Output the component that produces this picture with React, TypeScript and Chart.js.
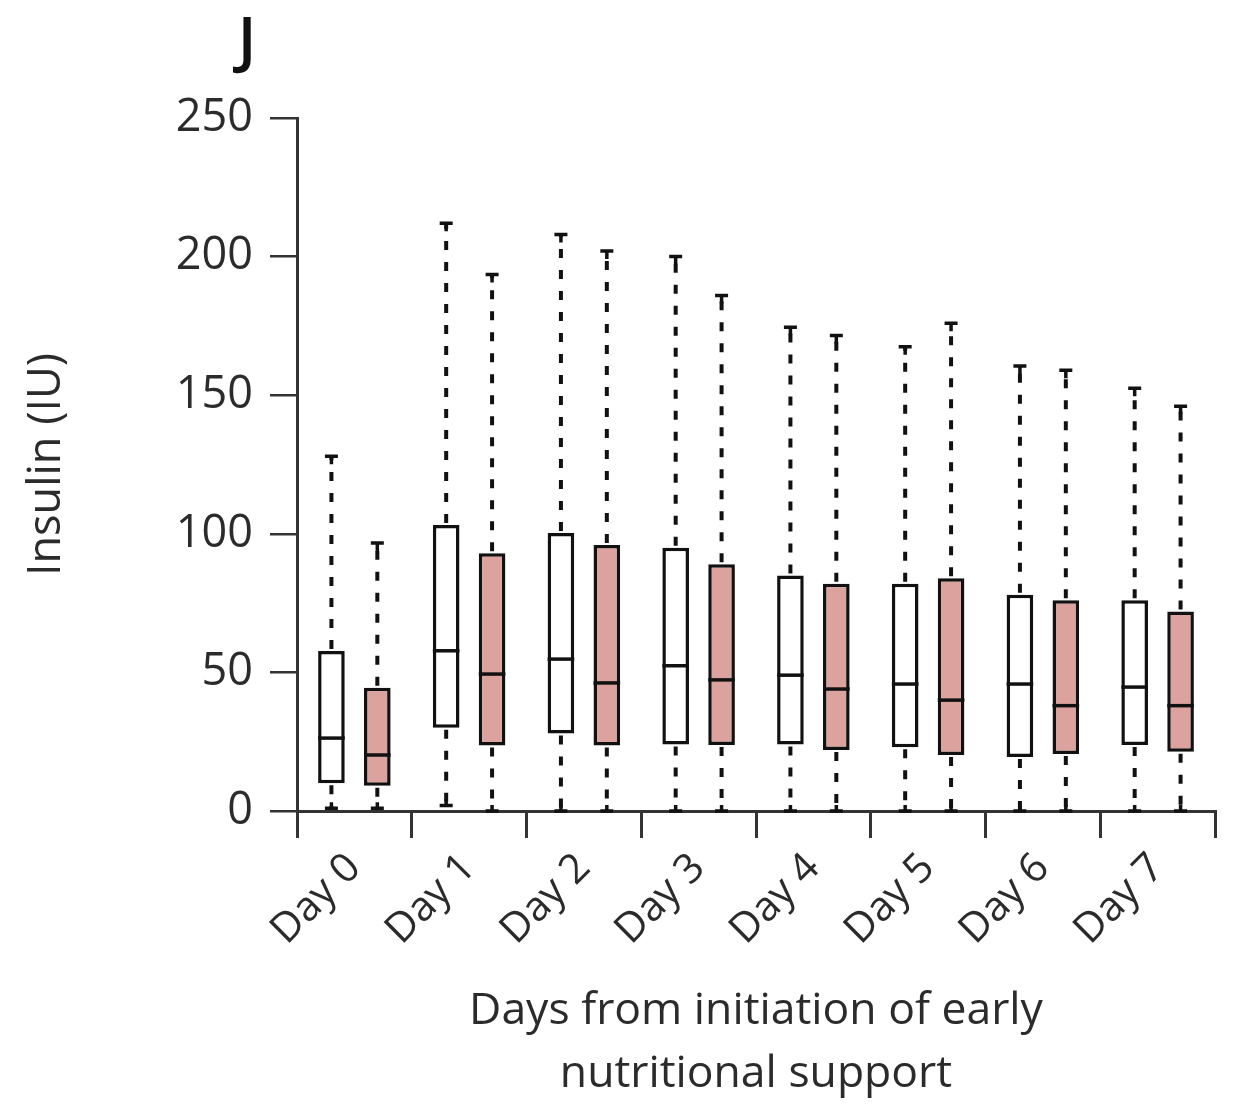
import React, { useEffect, useRef } from "react";
import { Chart, registerables } from "chart.js";

Chart.register(...registerables);

const days = ["Day 0", "Day 1", "Day 2", "Day 3", "Day 4", "Day 5", "Day 6", "Day 7"];

// Group 1 (white boxes)
const g1Min = [1, 2, 0, 0, 0, 0, 0, 0];
const g1Q1 = [10, 30, 28, 24, 24, 23, 19.5, 23.8];
const g1Median = [26.3, 57.8, 54.8, 52.4, 49, 45.8, 45.8, 44.7];
const g1Q3 = [57.7, 103.2, 100.3, 95, 85, 82, 78, 76];
const g1Max = [128, 212, 208, 200, 174.5, 167.5, 160.5, 152.5];

// Group 2 (pink boxes)
const g2Min = [1, 0, 0, 0, 0, 0, 0, 0];
const g2Q1 = [9.1, 23.6, 23.6, 23.8, 22, 20.2, 20.6, 21.4];
const g2Median = [20.2, 49.4, 46.2, 47.3, 44, 40, 38, 38];
const g2Q3 = [44.5, 93, 96, 89, 82, 84, 76, 72];
const g2Max = [96.7, 193.5, 202, 186, 171.5, 176, 159, 146];

const yTicks = [0, 50, 100, 150, 200, 250];

const FONT = "'Open Sans'";
const TEXT = "#2b2b2b";
const PINK = "#dca39e";

const whiskerPlugin = {
  id: "boxWhiskers",
  afterDatasetsDraw(chart: any) {
    const ctx = chart.ctx;
    const y = chart.scales.y;
    const groups = [
      { min: g1Min, med: g1Median, q1: g1Q1, q3: g1Q3, max: g1Max },
      { min: g2Min, med: g2Median, q1: g2Q1, q3: g2Q3, max: g2Max },
    ];
    groups.forEach((g, di) => {
      const meta = chart.getDatasetMeta(di);
      meta.data.forEach((bar: any, i: number) => {
        const cx = bar.x;
        const w = bar.width;
        ctx.save();
        // median
        ctx.strokeStyle = "#111";
        ctx.lineWidth = 3.5;
        ctx.beginPath();
        const ym = y.getPixelForValue(g.med[i]);
        ctx.moveTo(cx - w / 2, ym);
        ctx.lineTo(cx + w / 2, ym);
        ctx.stroke();
        // whiskers
        ctx.lineWidth = 4;
        ctx.setLineDash([9, 12]);
        const yq3 = y.getPixelForValue(g.q3[i]);
        const ymax = y.getPixelForValue(g.max[i]);
        const yq1 = y.getPixelForValue(g.q1[i]);
        const ymin = y.getPixelForValue(g.min[i]);
        ctx.beginPath();
        ctx.moveTo(cx, yq3 - 2);
        ctx.lineTo(cx, ymax);
        ctx.moveTo(cx, yq1 + 2);
        ctx.lineTo(cx, ymin);
        ctx.stroke();
        ctx.setLineDash([]);
        ctx.lineWidth = 3.5;
        ctx.beginPath();
        ctx.moveTo(cx - 6.5, ymax);
        ctx.lineTo(cx + 6.5, ymax);
        ctx.moveTo(cx, ymax);
        ctx.lineTo(cx, ymax + 8);
        ctx.moveTo(cx - 6.5, ymin);
        ctx.lineTo(cx + 6.5, ymin);
        ctx.moveTo(cx, ymin);
        ctx.lineTo(cx, ymin - 6);
        ctx.stroke();
        ctx.restore();
      });
    });
  },
};

const panelLabelPlugin = {
  id: "panelLabel",
  afterDraw(chart: any) {
    const ctx = chart.ctx;
    const area = chart.chartArea;
    ctx.save();
    ctx.fillStyle = "#111";
    ctx.font = `600 62px ${FONT}`;
    ctx.textAlign = "center";
    ctx.textBaseline = "alphabetic";
    ctx.fillText("J", area.left - 50, area.top - 57);
    ctx.restore();
  },
};

export default function App() {
  const ref = useRef<HTMLCanvasElement>(null);
  useEffect(() => {
    if (!ref.current) return;
    const chart = new Chart(ref.current, {
      type: "bar",
      data: {
        labels: days,
        datasets: [
          {
            label: "Group 1",
            data: days.map((_, i) => [g1Q1[i], g1Q3[i]]),
            backgroundColor: "#ffffff",
            borderColor: "#111",
            borderWidth: 3.5,
            borderSkipped: false,
            categoryPercentage: 0.8,
            barPercentage: 0.58,
          },
          {
            label: "Group 2",
            data: days.map((_, i) => [g2Q1[i], g2Q3[i]]),
            backgroundColor: PINK,
            borderColor: "#111",
            borderWidth: 3.5,
            borderSkipped: false,
            categoryPercentage: 0.8,
            barPercentage: 0.58,
          },
        ],
      },
      options: {
        responsive: false,
        animation: false,
        layout: { padding: { left: 0, right: 22, top: 118, bottom: 0 } },
        plugins: {
          legend: { display: false },
          tooltip: { enabled: false },
          title: { display: false },
        },
        scales: {
          x: {
            type: "category",
            offset: true,
            grid: {
              display: true,
              offset: true,
              drawOnChartArea: false,
              drawTicks: true,
              tickLength: 27,
              color: "#333",
              lineWidth: 3,
            },
            border: { display: true, color: "#333", width: 3 },
            ticks: {
              autoSkip: false,
              minRotation: 45,
              maxRotation: 45,
              padding: 6,
              color: TEXT,
              font: { family: FONT, size: 41 },
            },
            title: {
              display: true,
              text: ["Days from initiation of early", "nutritional support"],
              color: TEXT,
              font: { family: FONT, size: 44.5, lineHeight: 1.42 },
              padding: { top: 0, bottom: 1 },
            },
            afterFit(scale: any) {
              scale.height = 296;
            },
          },
          y: {
            min: 0,
            max: 250,
            afterBuildTicks(scale: any) {
              scale.ticks = yTicks.map((v) => ({ value: v }));
            },
            grid: {
              display: true,
              drawOnChartArea: false,
              drawTicks: true,
              tickLength: 27,
              color: "#333",
              lineWidth: 2.5,
            },
            border: { display: true, color: "#333", width: 3 },
            ticks: {
              padding: 17,
              color: TEXT,
              font: { family: FONT, size: 45 },
            },
            title: {
              display: true,
              text: "Insulin (IU)",
              color: TEXT,
              font: { family: FONT, size: 45 },
              padding: { top: 20, bottom: 0 },
            },
            afterFit(scale: any) {
              scale.width = 297;
            },
          },
        },
      },
      plugins: [whiskerPlugin, panelLabelPlugin],
    });
    return () => chart.destroy();
  }, []);
  return (
    <div style={{ position: "absolute", left: 0, top: 0, width: 1237, height: 1107, background: "#fff" }}>
      <canvas ref={ref} width={1237} height={1107} />
    </div>
  );
}
